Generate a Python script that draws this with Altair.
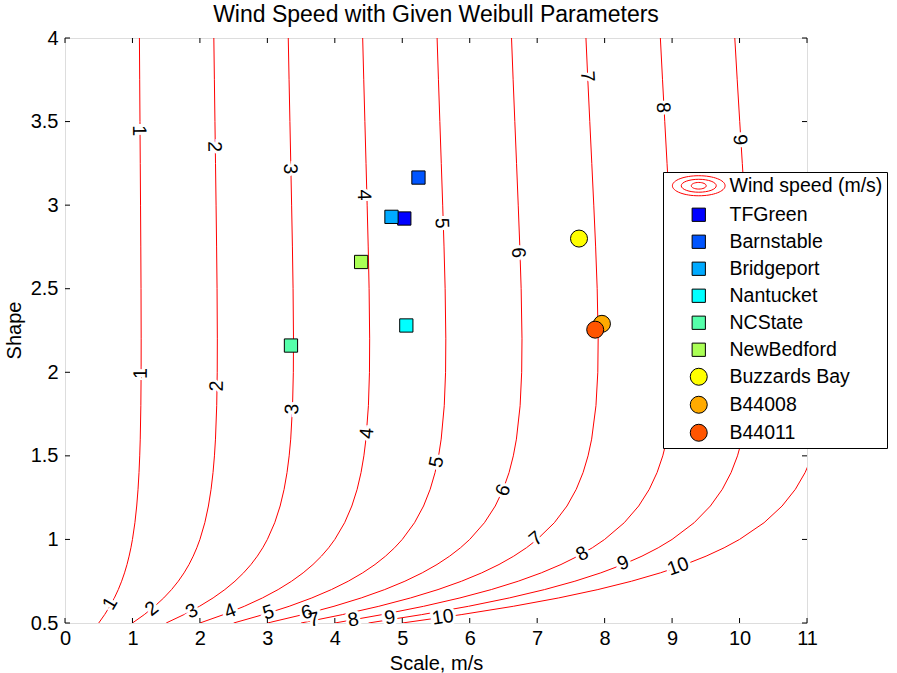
import altair as alt
import pandas as pd

# ---- data ----
title_text = ["Wind Speed with Given Weibull Parameters"]
levels = [1, 2, 3, 4, 5, 6, 7, 8, 9, 10]
shape_k = [0.5, 0.55, 0.6, 0.65, 0.7, 0.75, 0.8, 0.85, 0.9, 0.95, 1.0, 1.1, 1.2, 1.3,
           1.4, 1.5, 1.6, 1.8, 2.0, 2.2, 2.5, 2.75, 3.0, 3.25, 3.5, 3.75, 4.0]
# Gamma(1 + 1/k) for each shape value above
gamma_factor = [2.0, 1.70282, 1.50458, 1.36628, 1.26583, 1.19064, 1.13300, 1.08798,
                1.05220, 1.02340, 1.0, 0.96491, 0.94066, 0.92358, 0.91143, 0.90275,
                0.89658, 0.88929, 0.88623, 0.88563, 0.88726, 0.88986, 0.89298, 0.89634,
                0.89975, 0.90313, 0.90640]

site_names = ["TFGreen", "Barnstable", "Bridgeport", "Nantucket", "NCState",
              "NewBedford", "Buzzards Bay", "B44008", "B44011"]
site_scale = [5.03, 5.24, 4.84, 5.06, 3.35, 4.39, 7.62, 7.96, 7.86]
site_shape = [2.92, 3.165, 2.93, 2.28, 2.16, 2.66, 2.80, 2.29, 2.255]
site_fill = ["#0000ff", "#0055ff", "#00aaff", "#00ffff", "#55ffaa", "#aaff55",
             "#ffff00", "#ffaa00", "#ff5500"]
site_kind = ["square"] * 6 + ["circle"] * 3

label_text = ["1", "1", "1", "2", "2", "2", "3", "3", "3", "4", "4", "4", "5", "5", "5",
              "6", "6", "6", "7", "7", "7", "7", "8", "8", "8", "9", "9", "9", "10", "10"]
label_x = [1.099, 1.124, 0.670, 2.215, 2.250, 1.287, 3.336, 3.370, 1.880, 4.430, 4.477, 2.447,
           5.584, 5.510, 3.015, 6.719, 6.496, 3.584, 7.741, 7.930, 6.981, 3.692,
           8.867, 7.667, 4.274, 10.003, 8.274, 4.818, 9.089, 5.603]
label_y = [3.446, 1.993, 0.617, 3.350, 1.918, 0.585, 3.217, 1.779, 0.570, 3.061, 1.635, 0.570,
           2.892, 1.463, 0.564, 2.715, 1.294, 0.564, 3.770, 2.300, 1.004, 0.519,
           3.584, 0.914, 0.519, 3.391, 0.858, 0.531, 0.838, 0.534]
label_angle = [89.6, 270.2, 300.9, 89.2, 270.8, 321.9, 88.8, 272.2, 332.9, 88.4, 275.2, 339.0,
               88.0, 281.4, 343.0, 87.8, 292.3, 345.7, 87.0, 89.1, 319.7, 348.3,
               86.8, 330.7, 349.7, 86.4, 337.3, 350.7, 340.5, 351.5]

x_ticks = [0, 1, 2, 3, 4, 5, 6, 7, 8, 9, 10, 11]
y_ticks = [0.5, 1, 1.5, 2, 2.5, 3, 3.5, 4]

FONT = "Liberation Sans"
W, H = 742, 585

# ---- tables ----
contour_df = pd.DataFrame(
    [{"level": lv, "y": k, "g": g} for lv in levels for k, g in zip(shape_k, gamma_factor)]
)
site_df = pd.DataFrame({"name": site_names, "x": site_scale, "y": site_shape})
label_df = pd.DataFrame({"t": label_text, "x": label_x, "y": label_y, "a": label_angle})
xt_df = pd.DataFrame({"x": x_ticks})
yt_df = pd.DataFrame({"y": y_ticks})
title_df = pd.DataFrame({"t": title_text})

ellipse_path = ("M -3.1 0 A 3.1 1.18 0 1 0 3.1 0 A 3.1 1.18 0 1 0 -3.1 0 "
                "M -2.06 0 A 2.06 0.76 0 1 0 2.06 0 A 2.06 0.76 0 1 0 -2.06 0 "
                "M -0.88 0 A 0.88 0.39 0 1 0 0.88 0 A 0.88 0.39 0 1 0 -0.88 0 Z")
square_path = "M -0.78 -0.78 H 0.78 V 0.78 H -0.78 Z"

legend_names = ["Wind speed (m/s)"] + site_names
legend_fill = ["transparent"] + site_fill
legend_stroke = ["#ff0000"] + ["#000000"] * len(site_names)
legend_shape = [ellipse_path] + [square_path if s == "square" else "circle" for s in site_kind]

x_enc = alt.X("x:Q", scale=alt.Scale(domain=[0, 11], nice=False, zero=False),
              axis=alt.Axis(values=x_ticks, title="Scale, m/s", grid=False, domain=False,
                            ticks=False, tickSize=0, labelPadding=5, labelFontSize=20,
                            labelFont=FONT, labelColor="black", titleFont=FONT,
                            titleFontSize=20, titleFontWeight="normal", titleColor="black",
                            titleBaseline="alphabetic", titleY=46, labelFlush=False))
y_enc = alt.Y("y:Q", scale=alt.Scale(domain=[0.5, 4], nice=False, zero=False),
              axis=alt.Axis(values=y_ticks, format="~g", title="Shape", grid=False,
                            domain=False, ticks=False, tickSize=0, labelPadding=7,
                            labelFontSize=20, labelFont=FONT, labelColor="black",
                            titleFont=FONT, titleFontSize=20, titleFontWeight="normal",
                            titleColor="black", titleBaseline="alphabetic",
                            titleX=-45, titleY=292, titleAngle=270, labelFlush=False))

lines = alt.Chart(contour_df).transform_calculate(
    x="datum.level / datum.g"
).mark_line(color="#ff0000", strokeWidth=1, clip=True).encode(
    x=x_enc, y=y_enc, detail="level:N", order="y:Q"
)

halo = alt.Chart(label_df).mark_text(
    font=FONT, fontSize=19.5, color="white", stroke="white", strokeWidth=6,
    align="center", baseline="middle"
).encode(x=x_enc, y=y_enc, text="t:N", angle=alt.Angle("a:Q", scale=None))

labels = alt.Chart(label_df).mark_text(
    font=FONT, fontSize=19.5, color="black", align="center", baseline="middle"
).encode(x=x_enc, y=y_enc, text="t:N", angle=alt.Angle("a:Q", scale=None))

leg = alt.Legend(title=None, orient="none", legendX=598, legendY=134, fillColor="white",
                 strokeColor="black", padding=4, symbolOffset=22, labelOffset=21,
                 labelFont=FONT, labelFontSize=19.5, labelColor="black", labelLimit=400,
                 symbolSize=289, symbolStrokeWidth=1, rowPadding=6.0)

points = alt.Chart(site_df).mark_point(filled=True, size=289, strokeWidth=1, opacity=1).encode(
    x=x_enc, y=y_enc,
    fill=alt.Fill("name:N", scale=alt.Scale(domain=legend_names, range=legend_fill), legend=leg),
    stroke=alt.Stroke("name:N", scale=alt.Scale(domain=legend_names, range=legend_stroke), legend=leg),
    shape=alt.Shape("name:N", scale=alt.Scale(domain=legend_names, range=legend_shape), legend=leg),
)

tick_b = alt.Chart(xt_df).mark_rule(color="black", strokeWidth=1).encode(
    x=x_enc, y=alt.value(H), y2=alt.value(H - 5))
tick_t = alt.Chart(xt_df).mark_rule(color="black", strokeWidth=1).encode(
    x=x_enc, y=alt.value(0), y2=alt.value(5))
tick_l = alt.Chart(yt_df).mark_rule(color="black", strokeWidth=1).encode(
    y=y_enc, x=alt.value(0), x2=alt.value(5))
tick_r = alt.Chart(yt_df).mark_rule(color="black", strokeWidth=1).encode(
    y=y_enc, x=alt.value(W), x2=alt.value(W - 5))

title = alt.Chart(title_df).mark_text(
    font=FONT, fontSize=23, color="black", align="center", baseline="alphabetic"
).encode(text="t:N", x=alt.value(W / 2), y=alt.value(-16))

chart = alt.layer(lines, halo, labels, tick_b, tick_t, tick_l, tick_r, points, title).properties(
    width=W, height=H,
    padding={"left": 65, "top": 38, "right": 90, "bottom": 50},
    autosize=alt.AutoSizeParams(type="none"),
).configure_view(stroke="black", strokeWidth=1).configure(background="white")

chart.save("out.html", embed_options={"renderer": "svg", "actions": False})
